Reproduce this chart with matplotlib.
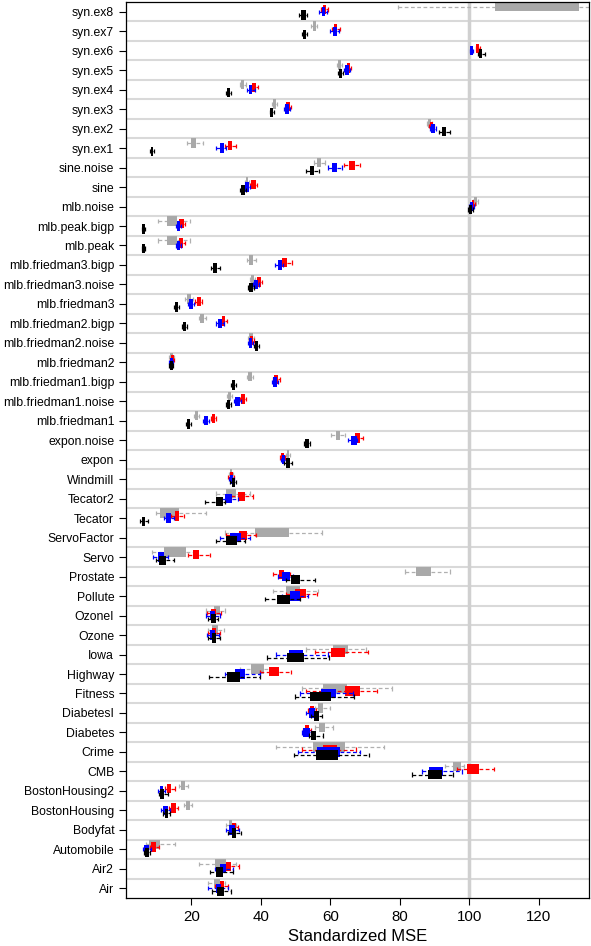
import numpy as np
import matplotlib
matplotlib.use("Agg")
import matplotlib.pyplot as plt

plt.rcParams['font.family'] = ['Liberation Sans', 'DejaVu Sans']

# datasets, top to bottom
datasets = [
    "syn.ex8", "syn.ex7", "syn.ex6", "syn.ex5", "syn.ex4", "syn.ex3", "syn.ex2", "syn.ex1",
    "sine.noise", "sine", "mlb.noise", "mlb.peak.bigp", "mlb.peak",
    "mlb.friedman3.bigp", "mlb.friedman3.noise", "mlb.friedman3",
    "mlb.friedman2.bigp", "mlb.friedman2.noise", "mlb.friedman2",
    "mlb.friedman1.bigp", "mlb.friedman1.noise", "mlb.friedman1",
    "expon.noise", "expon", "Windmill", "Tecator2", "Tecator", "ServoFactor", "Servo",
    "Prostate", "Pollute", "OzoneI", "Ozone", "Iowa", "Highway", "Fitness", "DiabetesI",
    "Diabetes", "Crime", "CMB", "BostonHousing2", "BostonHousing", "Bodyfat",
    "Automobile", "Air2", "Air",
]

nan = np.nan
# (lower whisker, Q1, Q3, upper whisker) per dataset
gray_stats = [
    (79.5, 107.3, 131.5, 140.0), (54.6, 54.9, 55.8, 56.1), (nan, nan, nan, nan), (62.0, 62.2, 63.2, 63.4),
    (33.9, 34.4, 35.3, 35.8), (43.1, 43.5, 44.3, 44.7), (87.9, 88.2, 89.0, 89.3), (18.8, 20.0, 21.4, 23.4),
    (55.3, 56.3, 57.3, 58.4), (35.5, 35.8, 36.4, 36.7), (101.2, 101.4, 102.2, 102.4), (10.4, 13.0, 16.0, 19.5),
    (10.5, 13.0, 16.0, 19.5), (35.9, 36.6, 37.9, 38.7), (36.8, 37.1, 38.1, 38.4), (18.2, 18.7, 19.9, 20.4),
    (22.1, 22.5, 23.7, 24.1), (36.4, 36.7, 37.7, 38.0), (13.6, 13.9, 14.6, 14.9), (36.0, 36.4, 37.5, 37.9),
    (30.4, 30.7, 31.5, 31.8), (20.8, 21.1, 22.0, 22.3), (60.3, 61.6, 62.9, 64.3), (47.2, 47.5, 48.2, 48.5),
    (30.8, 31.1, 31.8, 32.1), (27.0, 29.9, 32.8, 36.8), (9.7, 10.9, 16.6, 24.1), (29.6, 38.4, 48.1, 57.5),
    (8.8, 12.0, 18.4, 21.0), (81.4, 84.8, 88.9, 94.4), (43.5, 47.4, 51.2, 56.5), (24.3, 26.4, 28.2, 29.6),
    (24.8, 26.1, 27.7, 29.3), (53.1, 60.8, 65.2, 70.4), (33.9, 37.1, 41.0, 42.6), (52.0, 57.8, 64.7, 77.9),
    (55.5, 56.6, 58.0, 59.9), (55.5, 56.9, 58.6, 60.8), (44.5, 55.1, 64.2, 75.4), (93.0, 95.4, 97.7, 98.5),
    (16.5, 17.1, 18.1, 19.0), (17.8, 18.4, 19.5, 20.2), (29.9, 30.8, 31.8, 33.0), (7.0, 7.8, 11.1, 15.2),
    (22.2, 26.7, 30.1, 33.0), (24.8, 26.4, 28.4, 29.6),
]
red_stats = [
    (57.3, 57.8, 58.9, 59.3), (60.5, 61.0, 62.0, 62.8), (101.9, 102.1, 102.9, 103.1), (64.4, 64.7, 65.8, 66.1),
    (37.0, 37.5, 38.5, 39.3), (47.0, 47.3, 48.5, 48.8), (88.5, 88.8, 89.7, 90.0), (29.6, 30.6, 31.8, 32.8),
    (63.9, 65.4, 67.1, 68.5), (37.0, 37.3, 38.5, 38.8), (100.4, 100.7, 101.5, 101.7), (16.3, 16.6, 17.8, 18.2),
    (16.3, 16.6, 17.7, 18.1), (45.5, 46.2, 47.6, 49.0), (38.7, 39.0, 40.1, 40.4), (21.2, 21.5, 22.8, 23.1),
    (28.3, 28.7, 29.7, 30.2), (36.6, 36.9, 37.7, 38.0), (14.0, 14.2, 14.9, 15.1), (43.4, 43.8, 45.0, 45.4),
    (34.0, 34.3, 35.5, 35.8), (25.6, 25.9, 26.9, 27.2), (66.2, 67.1, 68.5, 69.5), (45.5, 45.8, 46.6, 46.9),
    (30.7, 31.0, 31.9, 32.2), (31.5, 33.4, 35.5, 37.8), (14.2, 15.2, 16.6, 17.8), (30.1, 33.7, 35.9, 38.5),
    (19.0, 20.5, 22.1, 25.5), (43.5, 45.3, 46.6, 48.3), (47.4, 49.8, 52.9, 56.2), (24.5, 25.8, 27.0, 28.6),
    (24.8, 26.1, 27.2, 28.3), (55.5, 60.1, 64.2, 70.9), (39.7, 42.4, 45.2, 48.6), (53.1, 64.2, 68.5, 73.5),
    (53.5, 54.1, 55.3, 55.9), (52.2, 52.7, 53.9, 54.5), (51.9, 57.9, 62.0, 67.4), (96.4, 99.4, 102.8, 107.1),
    (12.3, 13.0, 14.2, 15.2), (13.5, 14.2, 15.5, 16.2), (31.1, 31.8, 32.8, 33.4), (8.0, 8.5, 9.9, 10.6),
    (28.6, 30.1, 31.5, 33.7), (26.7, 28.4, 29.3, 30.5),
]
blue_stats = [
    (56.9, 57.5, 58.6, 59.0), (59.9, 60.7, 61.9, 62.4), (100.1, 100.2, 101.0, 101.1), (63.9, 64.2, 65.5, 65.7),
    (36.1, 36.5, 37.6, 38.3), (46.7, 47.0, 48.1, 48.4), (88.6, 89.0, 90.2, 90.5), (27.2, 28.2, 29.3, 30.1),
    (59.3, 60.6, 62.0, 63.5), (35.2, 35.6, 36.7, 37.0), (100.0, 100.3, 101.1, 101.3), (15.6, 15.9, 16.8, 17.1),
    (15.6, 15.9, 16.8, 17.1), (44.1, 45.0, 46.2, 46.4), (37.8, 38.1, 39.3, 39.6), (19.0, 19.4, 20.6, 20.9),
    (27.2, 27.7, 28.8, 29.3), (36.3, 36.6, 37.6, 37.9), (13.7, 13.9, 14.6, 14.8), (43.1, 43.5, 44.6, 45.0),
    (32.4, 32.7, 33.9, 34.2), (23.5, 23.8, 24.9, 25.2), (65.1, 66.1, 67.6, 67.7), (45.8, 46.1, 46.9, 47.2),
    (30.8, 31.1, 31.9, 32.2), (28.6, 29.8, 31.8, 33.4), (12.1, 12.8, 14.1, 14.9), (28.2, 31.2, 34.2, 36.8),
    (9.0, 10.4, 12.0, 13.3), (45.0, 46.2, 48.3, 49.3), (46.0, 48.3, 51.4, 53.6), (24.3, 25.3, 26.7, 28.3),
    (24.5, 25.3, 26.7, 28.0), (44.3, 48.1, 52.2, 59.4), (29.6, 32.5, 35.6, 39.7), (51.2, 57.3, 61.6, 66.6),
    (53.1, 53.8, 55.5, 56.0), (51.9, 52.2, 54.1, 54.6), (50.7, 56.2, 62.8, 68.5), (86.5, 88.4, 92.4, 97.8),
    (10.4, 10.9, 11.8, 12.5), (11.4, 11.8, 13.3, 13.8), (30.1, 30.9, 32.5, 33.6), (6.1, 6.3, 7.8, 8.5),
    (26.7, 28.2, 30.1, 32.0), (24.8, 27.0, 28.6, 30.6),
]
black_stats = [
    (51.1, 51.7, 52.9, 53.2), (52.0, 52.3, 53.1, 53.4), (102.6, 102.9, 103.7, 104.5), (62.2, 62.4, 63.4, 63.6),
    (30.0, 30.2, 31.1, 31.3), (42.6, 42.8, 43.5, 43.7), (91.4, 92.3, 93.4, 94.4), (8.2, 8.4, 9.1, 9.3),
    (52.9, 54.3, 55.4, 56.7), (34.0, 34.3, 35.4, 35.7), (99.7, 99.9, 100.8, 101.0), (5.8, 5.9, 6.7, 6.8),
    (5.8, 5.9, 6.7, 6.8), (25.8, 26.2, 27.4, 28.2), (36.4, 36.7, 37.7, 38.0), (15.0, 15.3, 16.3, 16.6),
    (17.2, 17.5, 18.5, 18.8), (38.0, 38.3, 39.2, 39.5), (13.6, 13.9, 14.6, 14.8), (31.4, 31.7, 32.5, 32.8),
    (29.9, 30.2, 31.1, 31.4), (18.4, 18.7, 19.7, 20.0), (52.4, 52.7, 53.9, 54.1), (46.8, 47.3, 48.3, 49.0),
    (31.2, 31.6, 32.7, 33.0), (24.0, 27.0, 29.2, 29.6), (5.3, 5.8, 6.8, 7.4), (27.0, 30.1, 33.3, 35.4),
    (9.7, 10.7, 12.6, 14.9), (47.2, 48.7, 51.4, 55.5), (41.1, 44.7, 48.3, 51.2), (24.9, 25.7, 27.0, 27.7),
    (24.7, 26.1, 27.2, 28.3), (41.9, 47.6, 52.4, 59.6), (25.1, 30.3, 34.1, 39.7), (49.8, 54.3, 60.1, 66.8),
    (54.6, 55.4, 56.8, 57.5), (53.9, 54.6, 56.0, 58.0), (49.6, 55.8, 62.1, 71.2), (83.4, 88.2, 92.2, 95.3),
    (10.6, 11.1, 12.0, 13.3), (11.8, 12.3, 13.3, 14.0), (30.6, 31.6, 32.8, 34.2), (6.5, 6.8, 7.8, 8.2),
    (25.5, 27.0, 29.1, 32.0), (26.1, 27.5, 29.3, 31.3),
]

# name, stats, box colour, whisker colour, vertical offset within row
methods = [
    ("gray", gray_stats, "#a9a9a9", "#b0b0b0", 0.26),
    ("red", red_stats, "#ff0000", "#ff0000", 0.12),
    ("blue", blue_stats, "#0000ff", "#0000ff", 0.0),
    ("black", black_stats, "#000000", "#000000", -0.16),
]

n = len(datasets)
ypos = np.arange(n)[::-1].astype(float)

fig = plt.figure(figsize=(5.91, 9.46), dpi=100)
ax = fig.add_axes([126 / 591, 48 / 946, 463 / 591, 896 / 946])

for yb in np.arange(n - 1) + 0.5:
    ax.axhline(yb, color="#d9d9d9", lw=1.5, zorder=0)
ax.axvline(100, color="#d0d0d0", lw=2.5, zorder=0.5)

box_h = 0.48
cap = 0.11
for k, (name, stats, col, wcol, off) in enumerate(methods):
    arr = np.array(stats, dtype=float)
    ok = ~np.isnan(arr[:, 0])
    arr = arr[ok]
    y = ypos[ok] + off
    z = 2 + k
    ax.hlines(y, arr[:, 0], arr[:, 1], colors=wcol, linestyles=(0, (3, 2)), lw=0.9, zorder=z)
    ax.hlines(y, arr[:, 2], arr[:, 3], colors=wcol, linestyles=(0, (3, 2)), lw=0.9, zorder=z)
    ax.vlines(arr[:, 0], y - cap, y + cap, colors=wcol, lw=0.9, zorder=z)
    ax.vlines(arr[:, 3], y - cap, y + cap, colors=wcol, lw=0.9, zorder=z)
    ax.barh(y, arr[:, 2] - arr[:, 1], left=arr[:, 1], height=box_h,
            color=col, lw=0, zorder=z + 0.5)

ax.set_xlim(1.2, 134.5)
ax.set_ylim(-0.5, n - 0.5)
ax.set_yticks(ypos)
ax.set_yticklabels(datasets)
ax.set_xticks([20, 40, 60, 80, 100, 120])
ax.tick_params(axis="y", labelsize=8.8, length=5, width=0.8)
ax.tick_params(axis="x", labelsize=10.8, length=5, width=0.8)
ax.set_xlabel("Standardized MSE", fontsize=12)
for s in ax.spines.values():
    s.set_linewidth(0.9)

fig.savefig("out.png", dpi=100)
